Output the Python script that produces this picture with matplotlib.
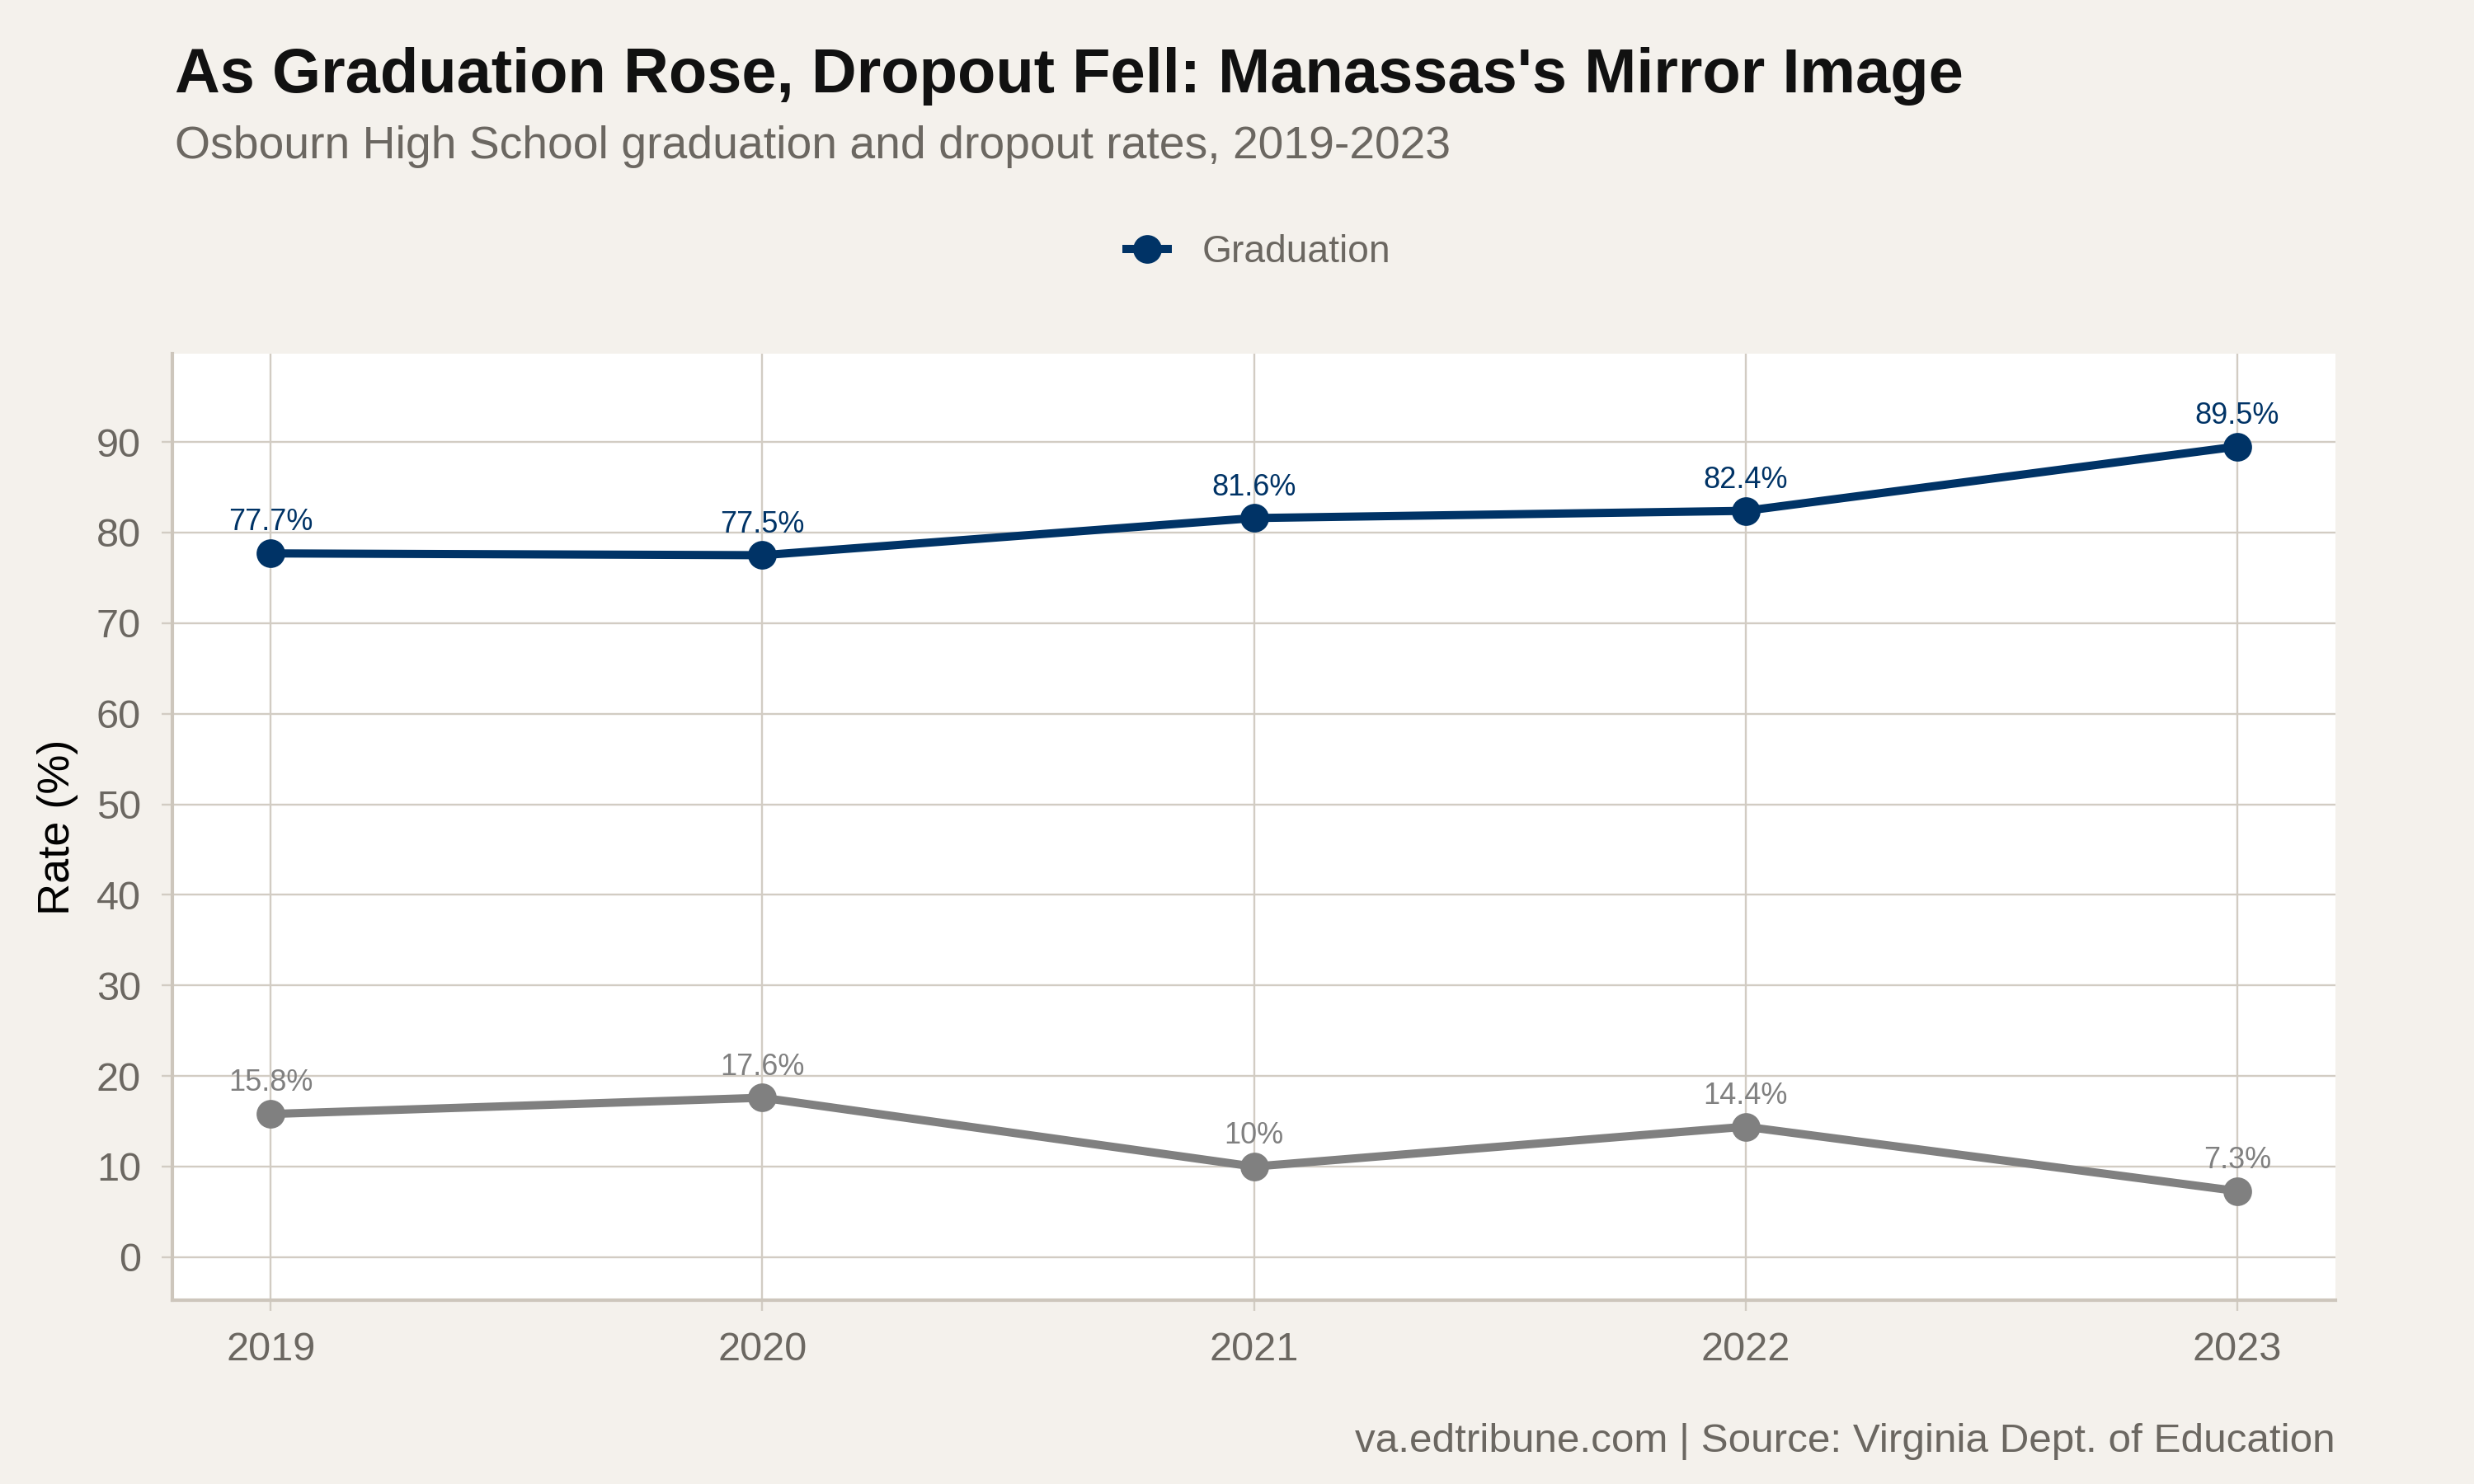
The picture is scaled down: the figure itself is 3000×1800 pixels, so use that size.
import matplotlib.pyplot as plt
import numpy as np

plt.rcParams['font.family'] = ['Liberation Sans', 'DejaVu Sans']

# data
years = [2019, 2020, 2021, 2022, 2023]
graduation = [77.7, 77.5, 81.6, 82.4, 89.5]
dropout = [15.8, 17.6, 10.0, 14.4, 7.3]
grad_labels = ['77.7%', '77.5%', '81.6%', '82.4%', '89.5%']
drop_labels = ['15.8%', '17.6%', '10%', '14.4%', '7.3%']

bg = '#f4f1ec'
navy = '#003366'
grey = '#808080'
txt_grey = '#6b6761'
grid_col = '#d2ccc3'

W, H = 3000, 1800
fig = plt.figure(figsize=(15, 9), dpi=200, facecolor=bg)
ax = fig.add_axes([209 / W, 1 - 1577 / H, (2832 - 209) / W, (1577 - 429) / H])
ax.set_facecolor('white')

ax.plot(years, graduation, color=navy, lw=3.6, marker='o', ms=11.5,
        solid_capstyle='butt', label='Graduation', zorder=3)
ax.plot(years, dropout, color=grey, lw=3.6, marker='o', ms=11.5,
        solid_capstyle='butt', zorder=3)

for x, y, s in zip(years, graduation, grad_labels):
    ax.annotate(s, (x, y), xytext=(0, 10), textcoords='offset points',
                ha='center', va='baseline', fontsize=13, color=navy, zorder=4)
for x, y, s in zip(years, dropout, drop_labels):
    ax.annotate(s, (x, y), xytext=(0, 10), textcoords='offset points',
                ha='center', va='baseline', fontsize=13, color=grey, zorder=4)

ax.set_xlim(2018.8, 2023.2)
ax.set_ylim(-4.75, 99.75)
ax.set_xticks(years)
ax.set_yticks(np.arange(0, 100, 10))
ax.grid(True, color=grid_col, lw=0.85)
ax.set_axisbelow(True)

for side in ['top', 'right']:
    ax.spines[side].set_visible(False)
for side in ['left', 'bottom']:
    ax.spines[side].set_color('#cdc6bc')
    ax.spines[side].set_linewidth(1.5)

ax.tick_params(axis='both', length=4.7, width=0.85, color=grid_col,
               labelcolor=txt_grey, labelsize=17.5)
ax.tick_params(axis='y', pad=9)
ax.tick_params(axis='x', pad=9)

ax.set_ylabel('Rate (%)', fontsize=19.5, color='black', labelpad=8)

fig.text(212 / W, 1 - 112 / H, "As Graduation Rose, Dropout Fell: Manassas's Mirror Image",
         fontsize=27.3, fontweight='bold', color='#111111', ha='left', va='baseline')
fig.text(212 / W, 1 - 192 / H, 'Osbourn High School graduation and dropout rates, 2019-2023',
         fontsize=19.9, color=txt_grey, ha='left', va='baseline')
fig.text(2832 / W, 1 - 1761 / H, 'va.edtribune.com | Source: Virginia Dept. of Education',
         fontsize=17.8, color=txt_grey, ha='right', va='baseline')

fig.legend(loc='center', bbox_to_anchor=(1524 / W, 1 - 306 / H), frameon=False,
           fontsize=16.6, labelcolor=txt_grey, handlelength=1.3, handletextpad=0.8)

fig.savefig('out.png', dpi=200, facecolor=bg)
